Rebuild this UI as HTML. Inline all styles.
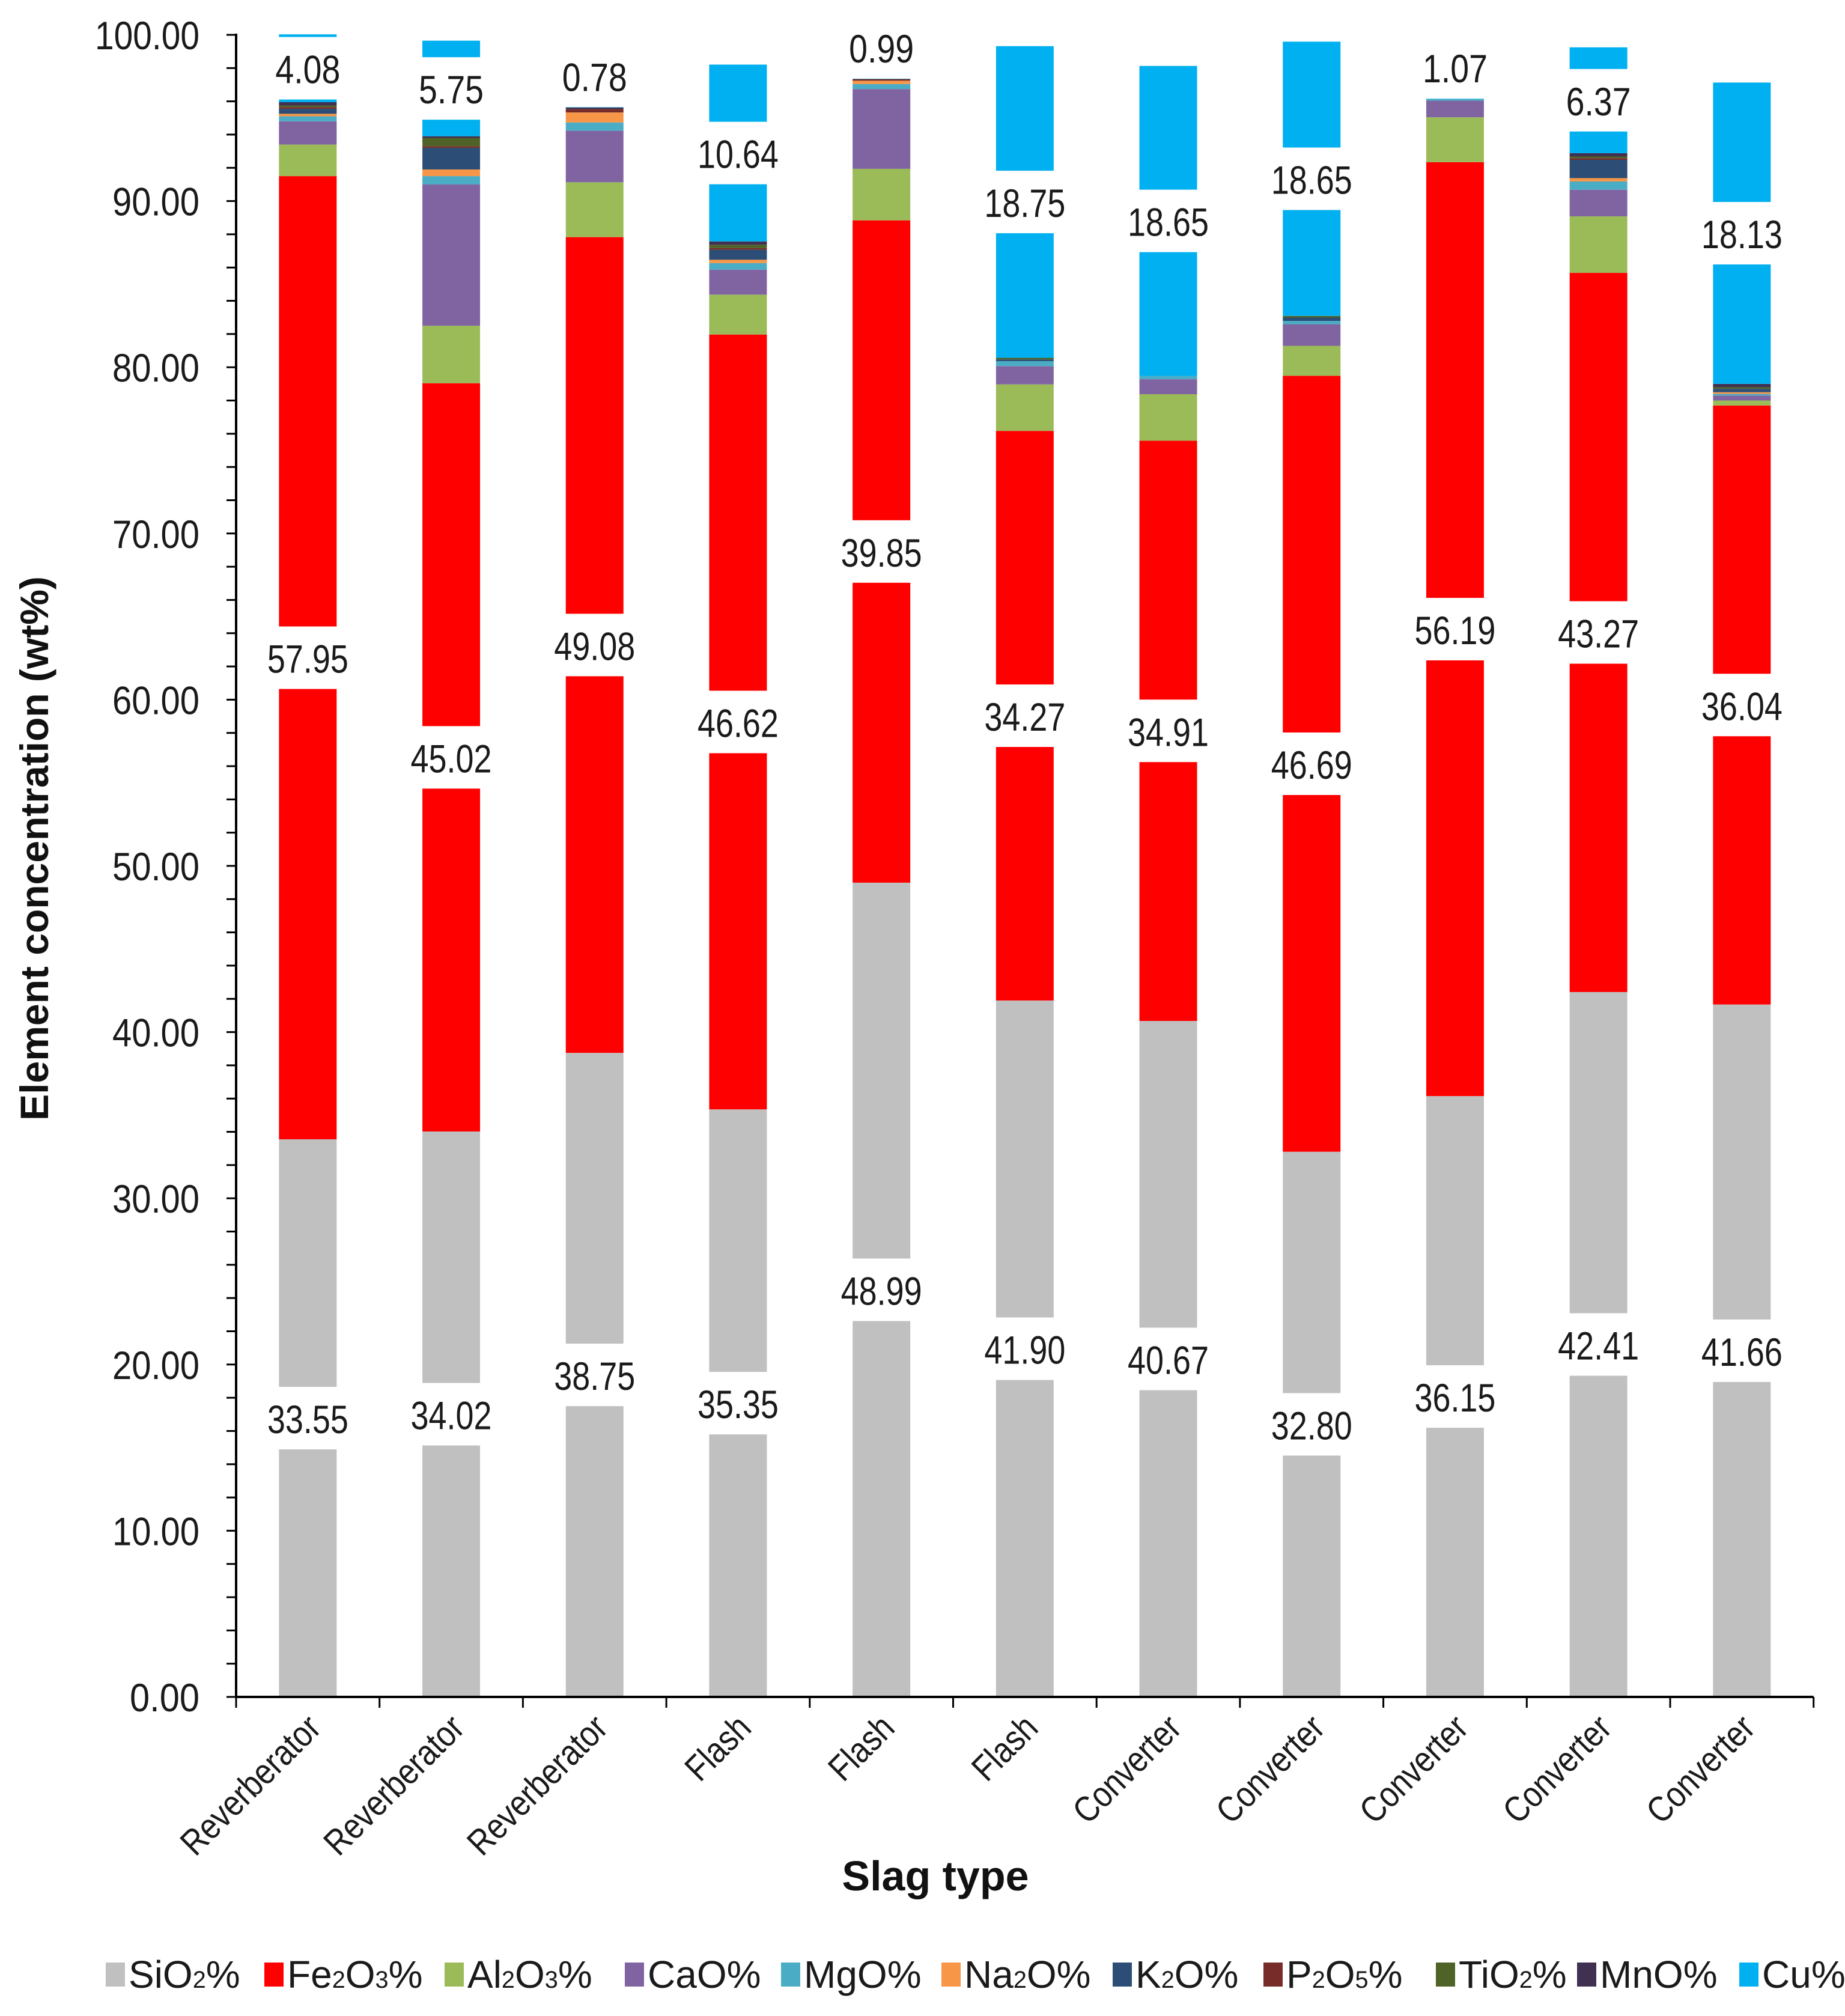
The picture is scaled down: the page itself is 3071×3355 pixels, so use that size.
<!DOCTYPE html>
<html><head><meta charset="utf-8"><style>
html,body{margin:0;padding:0;background:#fff;}
svg{display:block;font-family:"Liberation Sans",Arial,sans-serif;}
</style></head><body>
<svg id="chart" width="3071" height="3355" viewBox="0 0 3071 3355" xmlns="http://www.w3.org/2000/svg">
<rect width="3071" height="3355" fill="#fff"/>
<g id="bars"></g>
<g id="labels"></g>
<g id="axes"></g>
<text transform="translate(80,1412) rotate(-90)" text-anchor="middle" font-size="66" font-weight="bold" fill="#111">Element concentration (wt%)</text>
<text x="1557" y="3146" text-anchor="middle" font-size="70" font-weight="bold" fill="#111">Slag type</text>
<g id="legend"></g>
</svg>
<script>
const categories = ["Reverberator","Reverberator","Reverberator","Flash","Flash","Flash","Converter","Converter","Converter","Converter","Converter"];
const SiO2  = [33.55,34.02,38.75,35.35,48.99,41.90,40.67,32.80,36.15,42.41,41.66];
const Fe2O3 = [57.95,45.02,49.08,46.62,39.85,34.27,34.91,46.69,56.19,43.27,36.04];
const Al2O3 = [1.9,3.46,3.3,2.4,3.1,2.8,2.8,1.8,2.7,3.4,0.3];
const CaO   = [1.4,8.5,3.1,1.5,4.8,1.1,0.9,1.3,1.0,1.6,0.3];
const MgO   = [0.3,0.5,0.5,0.4,0.3,0.3,0.2,0.2,0.1,0.5,0.1];
const Na2O  = [0.15,0.4,0.6,0.2,0.2,0,0,0,0,0.2,0.1];
const K2O   = [0.3,1.3,0,0.6,0,0.1,0,0.2,0,1.1,0.2];
const P2O5  = [0.1,0.1,0.2,0.1,0.1,0,0,0,0,0.1,0];
const TiO2  = [0.1,0.5,0,0.2,0,0.1,0,0.1,0,0.1,0.1];
const MnO   = [0.2,0.1,0.1,0.2,0,0,0,0,0,0.2,0.2];
const Cu    = [4.08,5.75,0.78,10.64,0.99,18.75,18.65,16.5,1.07,6.37,18.13];
const CuLabels = ["4.08","5.75","0.78","10.64","0.99","18.75","18.65","18.65","1.07","6.37","18.13"];
const yTicks = [0,10,20,30,40,50,60,70,80,90,100];
const seriesNames = ["SiO2","Fe2O3","Al2O3","CaO","MgO","Na2O","K2O","P2O5","TiO2","MnO","Cu"];
const legendHtml = ["SiO<tspan font-size='0.62em'>2</tspan>%","Fe<tspan font-size='0.62em'>2</tspan>O<tspan font-size='0.62em'>3</tspan>%","Al<tspan font-size='0.62em'>2</tspan>O<tspan font-size='0.62em'>3</tspan>%","CaO%","MgO%","Na<tspan font-size='0.62em'>2</tspan>O%","K<tspan font-size='0.62em'>2</tspan>O%","P<tspan font-size='0.62em'>2</tspan>O<tspan font-size='0.62em'>5</tspan>%","TiO<tspan font-size='0.62em'>2</tspan>%","MnO%","Cu%"];
const series = [SiO2,Fe2O3,Al2O3,CaO,MgO,Na2O,K2O,P2O5,TiO2,MnO,Cu];
const colors = ["#c0c0c0","#ff0000","#9bbb59","#8064a2","#4bacc6","#f79646","#2c4d75","#772c2a","#4f6228","#403151","#00b0f0"];

const NS="http://www.w3.org/2000/svg";
const X0=393, Y0=2824, Y100=58, CW=238.7, BW=96;
const yS=v=>Y0-(v/100)*(Y0-Y100);
const xC=i=>X0+CW*(i+0.5);
function mk(tag,attrs,parent){const e=document.createElementNS(NS,tag);for(const k in attrs)e.setAttribute(k,attrs[k]);parent.appendChild(e);return e;}
const gB=document.getElementById('bars'),gL=document.getElementById('labels'),gA=document.getElementById('axes'),gG=document.getElementById('legend');

categories.forEach((c,i)=>{
  let base=0;
  series.forEach((s,k)=>{
    const v=s[i];
    if(v>0){
      const r=mk('rect',{x:xC(i)-BW/2,y:yS(base+v),width:BW,height:yS(base)-yS(base+v),fill:colors[k]},gB);
      
      
    }
    if(k===0||k===1||k===10){
      let mid=yS(base+v/2);
      if(k===10 && v<3) mid=yS(base+1.9);
      const txt=k===10?CuLabels[i]:v.toFixed(2);
      const bg=mk('rect',{x:xC(i)-78,y:mid-52,width:156,height:104,fill:"#fff"},gL);
      
      
      const t=mk('text',{x:xC(i),y:mid+25,'text-anchor':'middle','font-size':66,fill:"#1a1a1a",textLength:(txt.length*27),lengthAdjust:"spacingAndGlyphs"},gL);
      t.textContent=txt;
      
      
    }
    base+=v;
  });
});

let l=mk('line',{x1:X0,y1:Y100-2,x2:X0,y2:Y0,stroke:"#000","stroke-width":4},gA);


l=mk('line',{x1:X0,y1:Y0,x2:X0+CW*11,y2:Y0,stroke:"#000","stroke-width":4},gA);


for(let v=0;v<=100;v+=2){mk('line',{x1:X0-16,y1:yS(v),x2:X0,y2:yS(v),stroke:"#000","stroke-width":3},gA);}
yTicks.forEach(v=>{
  const s=v.toFixed(2);
  const t=mk('text',{x:332,y:yS(v)+24,'text-anchor':'end','font-size':66,fill:"#1a1a1a",textLength:s.length*29,lengthAdjust:"spacingAndGlyphs"},gA);
  t.textContent=s;
  
  
});
for(let i=0;i<=11;i++){mk('line',{x1:X0+CW*i,y1:Y0,x2:X0+CW*i,y2:Y0+18,stroke:"#000","stroke-width":3},gA);}
categories.forEach((c,i)=>{
  const t=mk('text',{transform:`translate(${xC(i)+25},${Y0+55}) rotate(-45)`,'text-anchor':'end','font-size':60,fill:"#1a1a1a",textLength:c.length*25,lengthAdjust:"spacingAndGlyphs"},gA);
  t.textContent=c;
  
  
});

const legX=[176,440,740,1040,1300,1567,1852,2103,2390,2625,2895];
seriesNames.forEach((n,k)=>{
  const g=mk('g',{},gG);
  
  
  mk('rect',{x:legX[k],y:3266,width:32,height:40,fill:colors[k]},g);
  const t=mk('text',{x:legX[k]+38,y:3308,'font-size':64,fill:"#1a1a1a"},g);
  t.innerHTML=legendHtml[k];
});
</script>
</body></html>
